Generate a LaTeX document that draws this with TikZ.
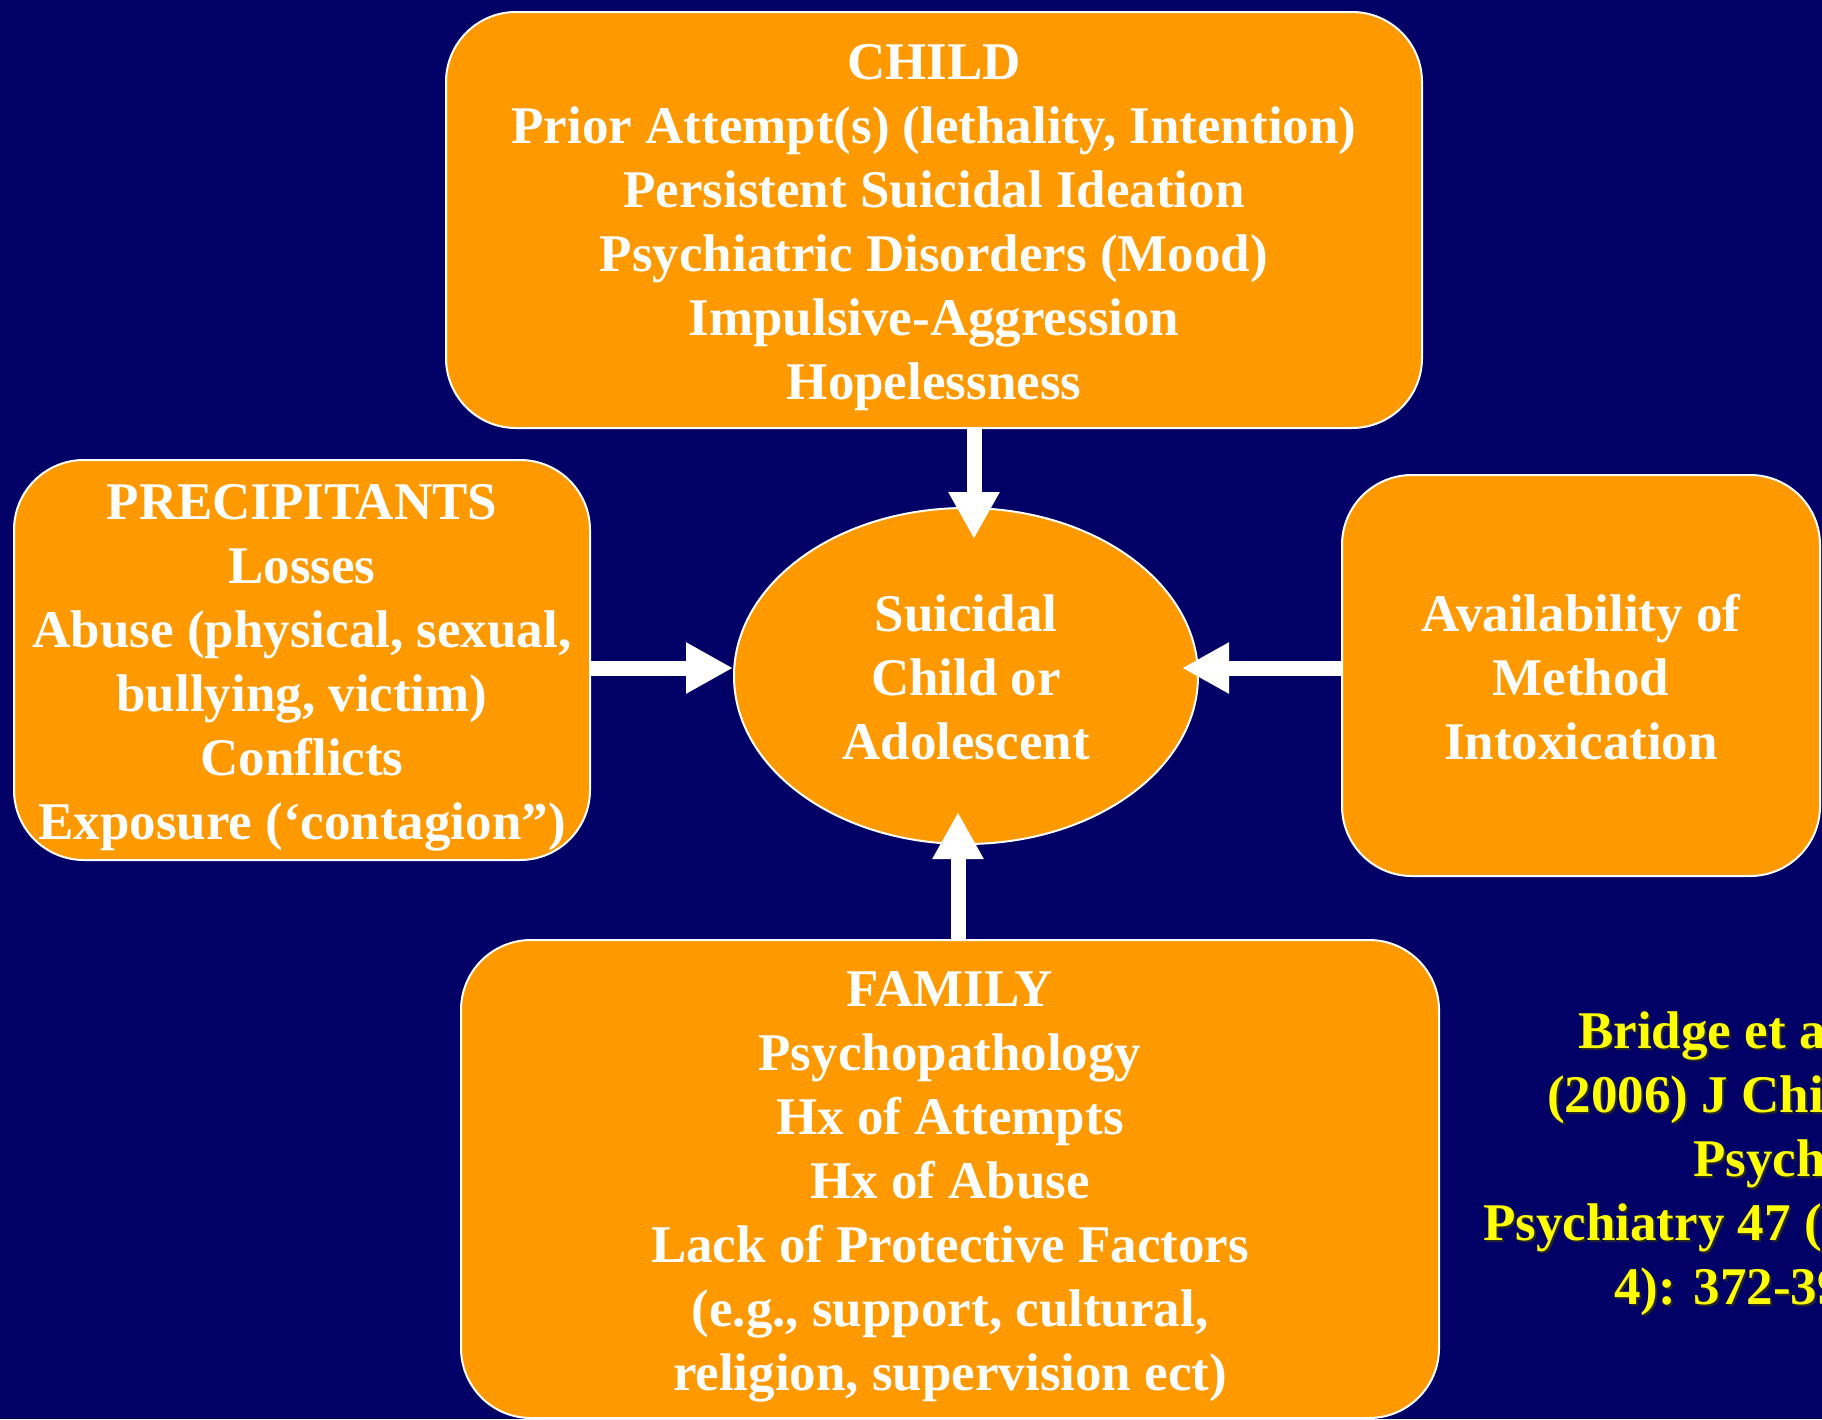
\documentclass[tikz,border=0pt]{standalone}
\usepackage{fontspec}
\setmainfont{Liberation Serif}
\usetikzlibrary{shapes.geometric,arrows.meta}

\definecolor{slidenavy}{RGB}{0,0,102}
\definecolor{boxorange}{RGB}{255,153,0}
\definecolor{refyellow}{RGB}{255,255,0}

% fixed line height so every text block sits the same way in its shape
\newcommand\linestrut{\rule[-12.5pt]{0pt}{64pt}}

\begin{document}
\begin{tikzpicture}[x=1pt,y=-1pt,
  every node/.style={font=\fontsize{53}{64}\selectfont\bfseries},
  factorbox/.style={draw=white, line width=2pt, fill=boxorange, rounded corners=70pt,
    text=white, align=center, inner sep=0pt},
  centrebox/.style={ellipse, draw=white, line width=2pt, fill=boxorange,
    text=white, align=center, inner sep=0pt, minimum width=464pt, minimum height=336pt},
  flow/.style={draw=white, line width=15pt, -{Triangle[length=47pt,width=48pt]}},
  reftext/.style={text=refyellow, anchor=base west, inner sep=0pt},
  refshadow/.style={text=black!85, anchor=base west, inner sep=0pt}]

% slide background
\useasboundingbox (0,0) rectangle (1822,1419);
\clip (0,0) rectangle (1822,1419);
\fill[slidenavy] (0,0) rectangle (1822,1419);

% risk factor groups
\node[factorbox, minimum width=976pt, minimum height=416pt] (child) at (934,220)
  {\linestrut CHILD\\
   \linestrut Prior Attempt(s) (lethality, Intention)\\
   \linestrut Persistent Suicidal Ideation\\
   \linestrut Psychiatric Disorders (Mood)\\
   \linestrut Impulsive-Aggression\\
   \linestrut Hopelessness};

\node[factorbox, minimum width=576pt, minimum height=400pt] (precip) at (302,660)
  {\linestrut PRECIPITANTS\\
   \linestrut Losses\\
   \linestrut Abuse (physical, sexual,\\
   \linestrut bullying, victim)\\
   \linestrut Conflicts\\
   \linestrut Exposure (‘contagion”)};

\node[factorbox, minimum width=478pt, minimum height=401pt] (avail) at (1581,675.5)
  {\linestrut Availability of\\
   \linestrut Method\\
   \linestrut Intoxication};

\node[factorbox, minimum width=978pt, minimum height=478pt] (family) at (950,1179)
  {\linestrut FAMILY\\
   \linestrut Psychopathology\\
   \linestrut Hx of Attempts\\
   \linestrut Hx of Abuse\\
   \linestrut Lack of Protective Factors\\
   \linestrut (e.g., support, cultural,\\
   \linestrut religion, supervision ect)};

% central outcome
\node[centrebox] (outcome) at (966,676)
  {\linestrut Suicidal\\
   \linestrut Child or\\
   \linestrut Adolescent};

% arrow tips reaching into the centre
\coordinate (tipTop) at (974,539);
\coordinate (tipLeft) at (733,668);
\coordinate (tipRight) at (1182,668);
\coordinate (tipBottom) at (958,812);

\draw[flow] (child.south -| tipTop) -- (tipTop);
\draw[flow] (precip.east |- tipLeft) -- (tipLeft);
\draw[flow] (avail.west |- tipRight) -- (tipRight);
\draw[flow] (family.north -| tipBottom) -- (tipBottom);

% reference, with drop shadow
\node[refshadow] (ref1s) at (1580,1050) {Bridge et al.};
\node[reftext]   (ref1)  at (1578,1048) {Bridge et al.};
\node[refshadow] (ref2s) at (1549,1114) {(2006) J Child};
\node[reftext]   (ref2)  at (1547,1112) {(2006) J Child};
\node[refshadow] (ref3s) at (1695,1178) {Psychol};
\node[reftext]   (ref3)  at (1693,1176) {Psychol};
\node[refshadow] (ref4s) at (1485,1242) {Psychiatry 47 (3-};
\node[reftext]   (ref4)  at (1483,1240) {Psychiatry 47 (3-};
\node[refshadow] (ref5s) at (1616,1306) {4): 372-394};
\node[reftext]   (ref5)  at (1614,1304) {4): 372-394};
\end{tikzpicture}
\end{document}
